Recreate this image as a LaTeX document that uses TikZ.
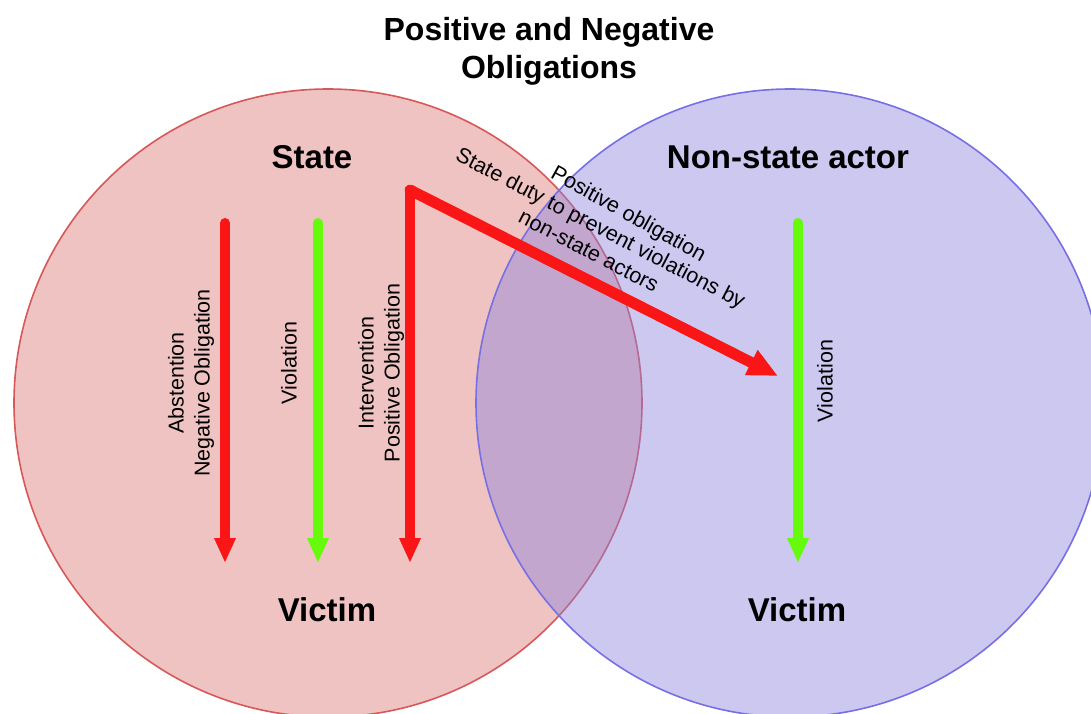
\documentclass[tikz,border=0pt]{standalone}
\usepackage{fontspec}
\setmainfont{Liberation Sans}
\usepackage{xcolor}
\usepackage{tikz}
\usetikzlibrary{positioning, arrows.meta}
\definecolor{obRed}{RGB}{221, 119, 119}
\definecolor{obRedLine}{RGB}{214, 88, 88}
\definecolor{obBlue}{RGB}{139, 130, 221}
\definecolor{obBlueLine}{RGB}{118, 112, 228}
\definecolor{obArrowRed}{RGB}{250, 22, 22}
\definecolor{obArrowGreen}{RGB}{102, 250, 12}
\tikzset{
    base/.style={
        align=center,
        inner sep=0pt
    },
    setcircle/.style={
        circle,
        minimum size=314pt,
        inner sep=0pt,
        line width=0.8pt,
        fill opacity=0.44
    },
    heading/.style={
        base,
        font=\fontsize{16.5}{19}\selectfont\bfseries
    },
    title/.style={
        base,
        font=\fontsize{16}{19}\selectfont\bfseries
    },
    note/.style={
        base,
        font=\fontsize{10.75}{13}\selectfont
    },
    flow/.style={
        line width=5pt,
        line cap=round,
        -{Triangle[length=12.5pt, width=10pt]}
    },
    duty/.style={
        line width=5.5pt,
        line cap=round,
        -{Triangle[length=15pt, width=13pt]}
    }
}
\begin{document}
\begin{tikzpicture}[x=0.5pt, y=-0.5pt]
  \useasboundingbox (0,0) rectangle (1091,713);

  % Sets
  \node[setcircle, draw=obRedLine, fill=obRed] (stateset) at (328,403) {};
  \node[setcircle, draw=obBlueLine, fill=obBlue] (actorset) at (790,403) {};

  % Headings
  \node[title] (title) at (549,51) {Positive and Negative\\Obligations};
  \node[heading] (state) at (312,157) {State};
  \node[heading] (actor) at (788,157) {Non-state actor};
  \node[heading] (victimL) at (327,610) {Victim};
  \node[heading] (victimR) at (797,610) {Victim};

  % Arrow ends
  \coordinate (negTop) at (225,223);
  \coordinate (negTip) at (225,563);
  \coordinate (vioTop) at (318,223);
  \coordinate (vioTip) at (318,563);
  \coordinate (elbow) at (410,190);
  \coordinate (posTip) at (410,563);
  \coordinate (dutyTip) at (778,376);
  \coordinate (nsaTop) at (798,223);
  \coordinate (nsaTip) at (798,563);

  % Arrows
  \draw[flow, obArrowRed] (negTop) -- (negTip);
  \draw[flow, obArrowGreen] (vioTop) -- (vioTip);
  \draw[flow, obArrowRed] (elbow) -- (posTip);
  \draw[duty, obArrowRed] (elbow) -- (dutyTip);
  \draw[flow, obArrowGreen] (nsaTop) -- (nsaTip);

  % Arrow labels
  \node[note, rotate=90] (negLabel) at (191,383) {Abstention\\Negative Obligation};
  \node[note, rotate=90] (vioLabel) at (289,363) {Violation};
  \node[note, rotate=90] (posLabel) at (381,373) {Intervention\\Positive Obligation};
  \node[note, rotate=90] (nsaLabel) at (825,381) {Violation};
  \node[note, rotate=-27.5] (dutyLabel) at (595,239) {State duty to prevent violations by\\non-state actors};
  \node[note, rotate=-29] (posObLabel) at (628,215) {Positive obligation};
\end{tikzpicture}
\end{document}
